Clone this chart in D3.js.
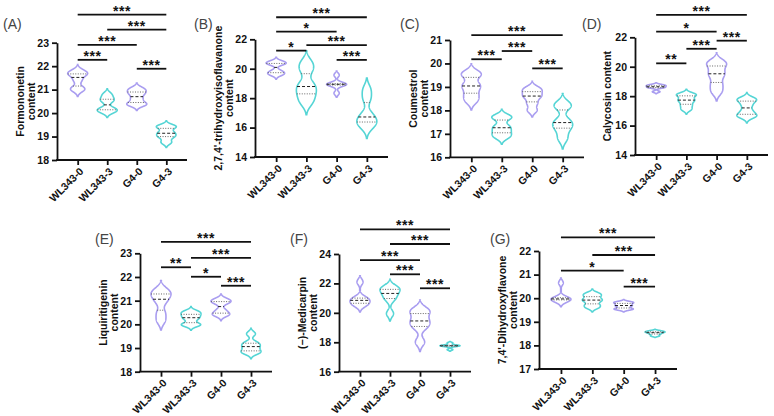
<!DOCTYPE html>
<html>
<head>
<meta charset="utf-8">
<script src="https://cdn.jsdelivr.net/npm/d3@7"></script>
<style>
  body { margin: 0; background: #fff; }
  svg { display: block; font-family: Arial, "Liberation Sans", sans-serif; }
</style>
</head>
<body>
<svg id="chart" width="774" height="416"></svg>
<script>
// Groups on every x axis
const groups = ["WL343-0", "WL343-3", "G4-0", "G4-3"];
const groupColors = ["#a99df0", "#55d5d5", "#a99df0", "#55d5d5"];

// Replicate values per group (estimated from the violins)
const formononetin = [
  [20.98, 21.07, 21.4, 21.64, 21.68, 21.8],
  [20.05, 20.12, 20.2, 20.5, 20.62, 20.8],
  [20.35, 20.4, 20.6, 20.8, 20.93, 21.05],
  [18.75, 18.97, 19.08, 19.2, 19.4, 19.45]
];
const trihydroxyisoflavanone = [
  [19.6, 19.69, 19.85, 20.33, 20.37, 20.48],
  [17.7, 18.19, 18.6, 18.98, 19.89, 20.4],
  [18.34, 18.88, 18.92, 18.96, 19.0, 19.57],
  [16.05, 16.32, 16.55, 16.89, 17.97, 18.6]
];
const coumestrol = [
  [18.4, 18.66, 18.95, 19.13, 19.5, 19.6],
  [16.85, 17.0, 17.18, 17.34, 17.67, 17.75],
  [18.0, 18.3, 18.55, 18.67, 18.84, 18.95],
  [16.8, 17.19, 17.4, 17.56, 18.17, 18.25]
];
const calycosin = [
  [18.3, 18.57, 18.6, 18.68, 18.72, 18.78],
  [17.1, 17.38, 17.65, 17.81, 18.09, 18.12],
  [18.3, 18.79, 19.35, 19.69, 20.17, 20.3],
  [16.62, 16.69, 17.0, 17.4, 17.75, 17.8]
];
const liquiritigenin = [
  [20.15, 20.48, 20.95, 21.17, 21.32, 21.45],
  [19.95, 20.02, 20.22, 20.34, 20.45, 20.55],
  [20.4, 20.43, 20.6, 20.9, 20.98, 21.05],
  [18.8, 18.84, 19.0, 19.12, 19.23, 19.6]
];
const medicarpin = [
  [20.5, 20.61, 20.78, 20.92, 21.03, 22.1],
  [19.95, 20.9, 21.2, 21.44, 21.65, 21.75],
  [18.02, 19.0, 19.3, 19.6, 20.07, 20.2],
  [17.5, 17.73, 17.75, 17.78, 17.8, 17.95]
];
const dihydroxyflavone = [
  [19.85, 19.92, 19.95, 19.99, 20.03, 20.65],
  [19.6, 19.72, 19.88, 19.96, 20.1, 20.2],
  [19.52, 19.56, 19.66, 19.72, 19.8, 19.84],
  [18.4, 18.47, 18.52, 18.56, 18.58, 18.62]
];

// Y axis tick values
const ticksA = [18, 19, 20, 21, 22, 23];
const ticksB = [14, 16, 18, 20, 22];
const ticksC = [16, 17, 18, 19, 20, 21];
const ticksD = [14, 16, 18, 20, 22];
const ticksE = [18, 19, 20, 21, 22, 23];
const ticksF = [16, 18, 20, 22, 24];
const ticksG = [17, 18, 19, 20, 21, 22];

// Significance brackets: [from group, to group, height, label]
const sigA = [[0, 3, 24.2, "***"], [1, 3, 23.56, "***"], [0, 2, 22.91, "***"], [0, 1, 22.27, "***"], [2, 3, 21.89, "***"]];
const sigB = [[0, 3, 23.5, "***"], [0, 2, 22.52, "*"], [1, 3, 21.6, "***"], [0, 1, 21.23, "*"], [2, 3, 20.6, "***"]];
const sigC = [[0, 3, 21.21, "***"], [1, 2, 20.53, "***"], [0, 1, 20.18, "***"], [2, 3, 19.79, "***"]];
const sigD = [[0, 3, 23.52, "***"], [0, 2, 22.38, "*"], [2, 3, 21.77, "***"], [1, 2, 21.22, "***"], [0, 1, 20.23, "**"]];
const sigE = [[0, 3, 23.48, "***"], [1, 3, 22.81, "***"], [0, 1, 22.41, "**"], [1, 2, 22.01, "*"], [2, 3, 21.63, "***"]];
const sigF = [[0, 3, 25.68, "***"], [1, 3, 24.68, "***"], [0, 2, 23.59, "***"], [1, 2, 22.62, "***"], [2, 3, 21.67, "***"]];
const sigG = [[0, 3, 22.58, "***"], [1, 3, 21.83, "***"], [0, 2, 21.17, "*"], [2, 3, 20.49, "***"]];

const panels = [
  { tag: "(A)", title: ["Formononetin", "content"], values: formononetin, ticks: ticksA, sig: sigA },
  { tag: "(B)", title: ["2,7,4'-trihydroxyisoflavanone", "content"], values: trihydroxyisoflavanone, ticks: ticksB, sig: sigB },
  { tag: "(C)", title: ["Coumestrol", "content"], values: coumestrol, ticks: ticksC, sig: sigC },
  { tag: "(D)", title: ["Calycosin content"], values: calycosin, ticks: ticksD, sig: sigD },
  { tag: "(E)", title: ["Liquiritigenin", "content"], values: liquiritigenin, ticks: ticksE, sig: sigE },
  { tag: "(F)", title: ["(\u2212)-Medicarpin", "content"], values: medicarpin, ticks: ticksF, sig: sigF },
  { tag: "(G)", title: ["7,4'-Dihydroxyflavone", "content"], values: dihydroxyflavone, ticks: ticksG, sig: sigG }
];

// Plot box of each panel
const layout = [
  { x0: 57, x1: 187, top: 42.7, bottom: 160, tagX: 3, tagY: 29 },
  { x0: 255, x1: 388, top: 39.3, bottom: 157, tagX: 194, tagY: 29 },
  { x0: 450, x1: 584, top: 40, bottom: 157.3, tagX: 400, tagY: 29 },
  { x0: 635, x1: 768, top: 37.3, bottom: 155, tagX: 582, tagY: 29 },
  { x0: 140, x1: 272, top: 253.3, bottom: 371.7, tagX: 95, tagY: 244 },
  { x0: 339, x1: 471, top: 254, bottom: 371.7, tagX: 290, tagY: 244 },
  { x0: 539, x1: 677, top: 251, bottom: 369, tagX: 490, tagY: 244 }
];

const svg = d3.select("#chart");
const halfWidth = 10;

// Gaussian kernel density for one group, trimmed where it fades out
function violinShape(values) {
  const n = values.length;
  const h = 0.55 * 0.9 * d3.deviation(values) * Math.pow(n, -0.2);
  const [lo, hi] = d3.extent(values);
  const dens = (v) => d3.mean(values, (x) => Math.exp(-0.5 * ((v - x) / h) ** 2));
  const grid = d3.range(0, 201).map((i) => lo - 3 * h + ((hi - lo + 6 * h) * i) / 200);
  let pts = grid.map((v) => [v, dens(v)]);
  const peak = d3.max(pts, (d) => d[1]);
  pts = pts.filter((d) => d[1] >= 0.03 * peak);
  return { pts, peak, dens };
}

panels.forEach((p, pi) => {
  const L = layout[pi];
  const g = svg.append("g");

  const x = d3.scalePoint().domain(groups).range([L.x0, L.x1]).padding(0.7);
  const y = d3
    .scaleLinear()
    .domain([p.ticks[0], p.ticks[p.ticks.length - 1]])
    .range([L.bottom, L.top]);

  // Violins with median and quartile lines
  p.values.forEach((vals, gi) => {
    const cx = x(groups[gi]);
    const shape = violinShape(vals);
    const w = d3.scaleLinear().domain([0, shape.peak]).range([0, halfWidth]);
    const area = d3
      .area()
      .y((d) => y(d[0]))
      .x0((d) => cx - w(d[1]))
      .x1((d) => cx + w(d[1]));
    g.append("path")
      .datum(shape.pts)
      .attr("d", area)
      .attr("fill", "#fff")
      .attr("stroke", groupColors[gi])
      .attr("stroke-width", 1.6);

    const sorted = vals.slice().sort(d3.ascending);
    [0.25, 0.5, 0.75].forEach((q) => {
      const v = d3.quantile(sorted, q);
      const hw = w(shape.dens(v));
      g.append("line")
        .attr("x1", cx - hw)
        .attr("x2", cx + hw)
        .attr("y1", y(v))
        .attr("y2", y(v))
        .attr("stroke", q === 0.5 ? "#222" : "#666")
        .attr("stroke-width", 1)
        .attr("stroke-dasharray", q === 0.5 ? "3,2" : "1,1.5");
    });
  });

  // Y axis
  const yAxis = g
    .append("g")
    .attr("transform", `translate(${L.x0},0)`)
    .call(
      d3
        .axisLeft(y)
        .tickValues(p.ticks)
        .tickFormat(d3.format("d"))
        .tickSize(5)
        .tickSizeOuter(0)
        .tickPadding(3)
    );
  yAxis.select(".domain").attr("stroke", "#111").attr("stroke-width", 1.8);
  yAxis.selectAll(".tick line").attr("stroke", "#111").attr("stroke-width", 1.8);
  yAxis.selectAll(".tick text").attr("font-size", 10.5).attr("font-weight", "bold").attr("fill", "#111");

  // X axis
  const xAxis = g
    .append("g")
    .attr("transform", `translate(0,${L.bottom})`)
    .call(d3.axisBottom(x).tickSize(5).tickSizeOuter(0));
  xAxis.select(".domain").remove();
  xAxis.append("line")
    .attr("x1", L.x0 - 0.9)
    .attr("x2", L.x1)
    .attr("stroke", "#111")
    .attr("stroke-width", 1.8);
  xAxis.selectAll(".tick line").attr("stroke", "#111").attr("stroke-width", 1.8);
  xAxis.selectAll(".tick text")
    .attr("font-size", 10.5)
    .attr("font-weight", "bold")
    .attr("fill", "#111")
    .attr("text-anchor", "end")
    .attr("y", 0)
    .attr("dy", 0)
    .attr("transform", "translate(6,12) rotate(-45)");

  // Y axis title
  const nLines = p.title.length;
  p.title.forEach((line, li) => {
    const cxText = nLines === 1 ? L.x0 - 24 : L.x0 - 33 + li * 11;
    g.append("text")
      .attr("transform", `translate(${cxText},${(L.top + L.bottom) / 2}) rotate(-90)`)
      .attr("text-anchor", "middle")
      .attr("font-size", 10.5)
      .attr("font-weight", "bold")
      .attr("fill", "#111")
      .text(line);
  });

  // Panel tag
  g.append("text")
    .attr("x", L.tagX)
    .attr("y", L.tagY)
    .attr("font-size", 14)
    .attr("fill", "#444")
    .text(p.tag);

  // Significance brackets
  p.sig.forEach(([a, b, level, label]) => {
    const xa = x(groups[a]);
    const xb = x(groups[b]);
    g.append("line")
      .attr("x1", xa)
      .attr("x2", xb)
      .attr("y1", y(level))
      .attr("y2", y(level))
      .attr("stroke", "#111")
      .attr("stroke-width", 1.8);
    g.append("text")
      .attr("x", (xa + xb) / 2)
      .attr("y", y(level) + 1)
      .attr("text-anchor", "middle")
      .attr("font-size", 14)
      .attr("font-weight", "bold")
      .attr("letter-spacing", 0.5)
      .attr("fill", "#111")
      .text(label);
  });
});
</script>
</body>
</html>
